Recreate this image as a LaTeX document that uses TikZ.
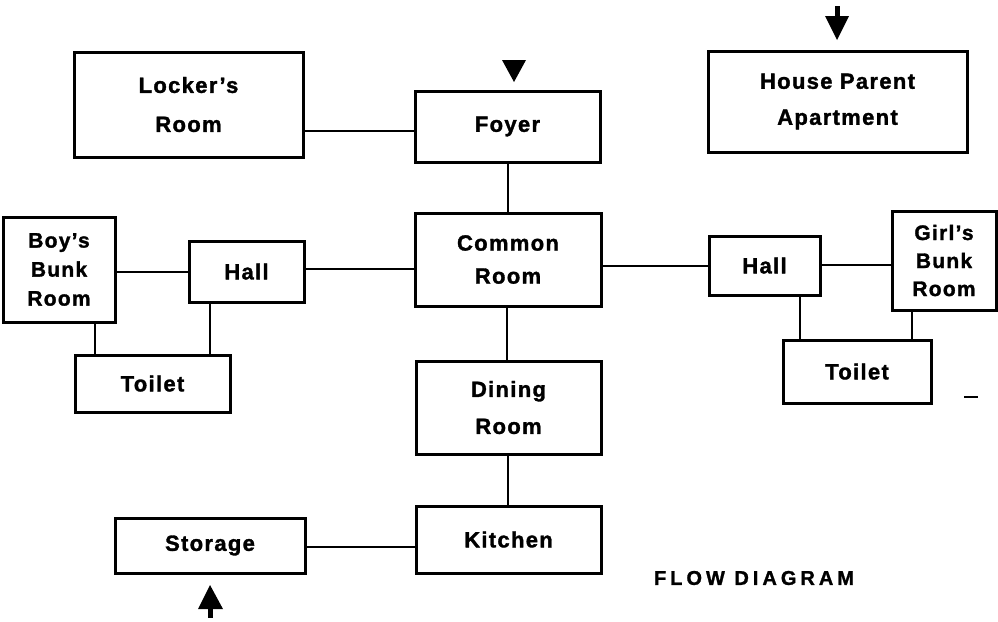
\documentclass[tikz,border=0pt]{standalone}
\usepackage{fontspec}
\setmainfont{Liberation Sans}[LetterSpace=6, BoldFeatures={FakeBold=1.5}]
\newfontfamily\titlefont{Liberation Sans}[LetterSpace=20, BoldFeatures={FakeBold=1.2}]
\begin{document}
\begin{tikzpicture}[x=1pt,y=-1pt,
  room/.style={draw, line width=3pt, inner sep=0pt, align=center, font=\bfseries\fontsize{22}{33}\selectfont},
  conn/.style={line width=2pt},
  arrowfill/.style={fill=black, draw=none}]
\useasboundingbox (0,0) rectangle (998,621);
% rooms
\node[room, minimum width=229, minimum height=105, font=\bfseries\fontsize{22}{39}\selectfont] (locker) at (188.5,104.5) {Locker's\\Room};
\node[room, minimum width=185, minimum height=71] (foyer) at (507.5,126.5) {Foyer};
\node[room, minimum width=259, minimum height=101, font=\bfseries\fontsize{22}{36}\selectfont] (house) at (837.5,101.5) {House Parent\\Apartment};
\node[room, minimum width=112, minimum height=105, font=\bfseries\fontsize{21}{29}\selectfont] (boy) at (59,269.5) {Boy's\\Bunk\\Room};
\node[room, minimum width=115, minimum height=61] (hallL) at (246.5,271.5) {Hall};
\node[room, minimum width=186, minimum height=93] (common) at (508,259.5) {Common\\Room};
\node[room, minimum width=111, minimum height=59] (hallR) at (764.5,265.5) {Hall};
\node[room, minimum width=104, minimum height=99, font=\bfseries\fontsize{21}{28}\selectfont] (girl) at (944,260.5) {Girl's\\Bunk\\Room};
\node[room, minimum width=155, minimum height=57] (toiletL) at (152.5,383.5) {Toilet};
\node[room, minimum width=148, minimum height=63] (toiletR) at (857,371.5) {Toilet};
\node[room, minimum width=185, minimum height=93, font=\bfseries\fontsize{22}{37}\selectfont] (dining) at (508.5,407.5) {Dining\\Room};
\node[room, minimum width=185, minimum height=67] (kitchen) at (508.5,539.5) {Kitchen};
\node[room, minimum width=190, minimum height=55] (storage) at (210,545.5) {Storage};
\node[font=\titlefont\bfseries\fontsize{20}{24}\selectfont, inner sep=0pt] (title) at (754,578) {FLOW DIAGRAM};
% horizontal connectors
\draw[conn] (locker.east |- 0,131) -- (foyer.west |- 0,131);
\draw[conn] (boy.east |- 0,272) -- (hallL.west |- 0,272);
\draw[conn] (hallL.east |- 0,269) -- (common.west |- 0,269);
\draw[conn] (common.east |- 0,266) -- (hallR.west |- 0,266);
\draw[conn] (hallR.east |- 0,265) -- (girl.west |- 0,265);
\draw[conn] (storage.east |- 0,547) -- (kitchen.west |- 0,547);
% vertical connectors
\draw[conn] (foyer.south -| 508,0) -- (common.north -| 508,0);
\draw[conn] (common.south -| 507,0) -- (dining.north -| 507,0);
\draw[conn] (dining.south -| 508,0) -- (kitchen.north -| 508,0);
\draw[conn] (hallL.south -| 210,0) -- (toiletL.north -| 210,0);
\draw[conn] (boy.south -| 95,0) -- (toiletL.north -| 95,0);
\draw[conn] (hallR.south -| 800,0) -- (toiletR.north -| 800,0);
\draw[conn] (girl.south -| 912,0) -- (toiletR.north -| 912,0);
% entry arrows
\coordinate (foyerTip) at (514,82);
\fill[arrowfill] (foyerTip) -- (502,60) -- (526,60) -- cycle;
\coordinate (houseTip) at (837,40);
\fill[arrowfill] (834.5,6) rectangle (839.5,18);
\fill[arrowfill] (houseTip) -- (825,16) -- (849,16) -- cycle;
\coordinate (storageTip) at (210,585);
\fill[arrowfill] (207.5,606) rectangle (212.5,618);
\fill[arrowfill] (storageTip) -- (198,609) -- (223,609) -- cycle;
% stray mark
\coordinate (dashA) at (964,397);
\coordinate (dashB) at (978,397);
\draw[conn] (dashA) -- (dashB);
\end{tikzpicture}
\end{document}
